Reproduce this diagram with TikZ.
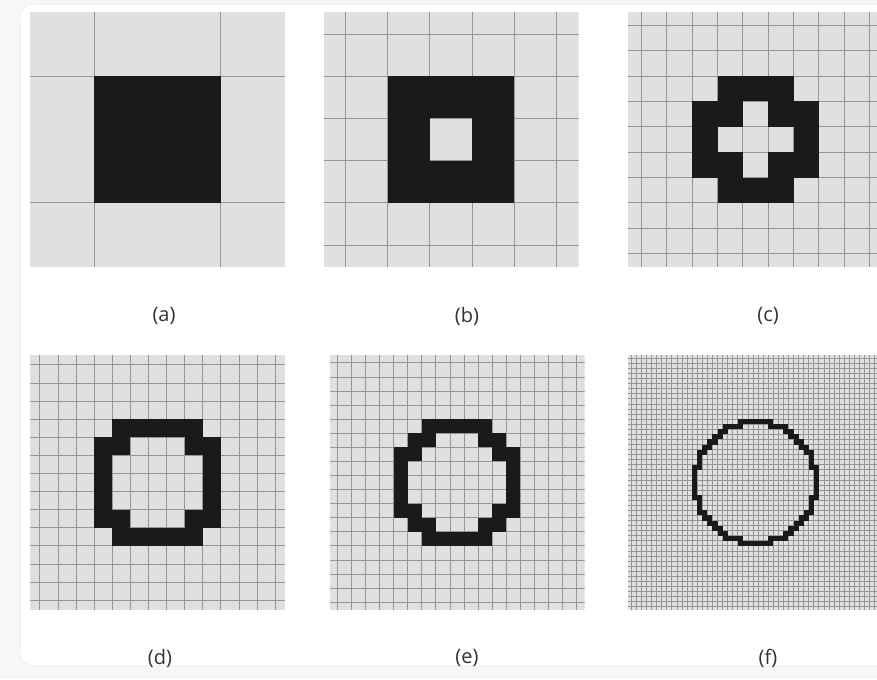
\documentclass[tikz,border=0pt]{standalone}
\usepackage{fontspec}
\setmainfont{Open Sans}
\definecolor{cellbg}{RGB}{224,224,224}
\definecolor{gridln}{RGB}{150,150,150}
\definecolor{ink}{RGB}{26,26,26}
\definecolor{outbg}{RGB}{247,247,247}
\definecolor{framec}{RGB}{232,232,232}
\tikzset{
  gridline/.style={draw=gridln, line width=0.6pt},
  caption/.style={font=\fontsize{15}{18}\selectfont, text=black!80, inner sep=0pt, anchor=center}
}
% #1 left, #2 top, #3 N (cells per unit), #4 list of black cells i/j
\newcommand\gridpanel[4]{%
  \begin{scope}
    \clip (#1,#2) rectangle ++(255,255);
    \fill[cellbg] (#1,#2) rectangle ++(255,255);
    \pgfmathsetmacro\pp{126.7/#3}
    \pgfmathsetmacro\cx{#1+127.5}
    \pgfmathsetmacro\cy{#2+127.5}
    \foreach \k in {0,...,#3} {
      \draw[gridline] ({\cx+(\k+0.5)*\pp},#2) -- ++(0,255);
      \draw[gridline] ({\cx-(\k+0.5)*\pp},#2) -- ++(0,255);
      \draw[gridline] (#1,{\cy+(\k+0.5)*\pp}) -- ++(255,0);
      \draw[gridline] (#1,{\cy-(\k+0.5)*\pp}) -- ++(255,0);
    }
    \foreach \i/\j in {#4} {
      \fill[ink] ({\cx+(\i-0.5)*\pp},{\cy+(\j-0.5)*\pp}) rectangle ++(\pp,\pp);
    }
  \end{scope}}
\begin{document}
\begin{tikzpicture}[x=0.75pt,y=-0.75pt]
\useasboundingbox (0,0) rectangle (877,679);
\fill[outbg] (0,0) rectangle (877,679);
\draw[framec, fill=white, rounded corners=10pt] (20,4) rectangle (910,666);

% (a)
\gridpanel{30}{12}{1}{0/0}
% (b)
\gridpanel{323.5}{12}{3}{-1/-1,0/-1,1/-1,-1/0,1/0,-1/1,0/1,1/1}
% (c)
\gridpanel{628}{12}{5}{-1/-2,0/-2,1/-2,
  -2/-1,-1/-1,1/-1,2/-1,
  -2/0,2/0,
  -2/1,-1/1,1/1,2/1,
  -1/2,0/2,1/2}
% (d)
\gridpanel{30}{355}{7}{-2/-3,-1/-3,0/-3,1/-3,2/-3,
  -3/-2,-2/-2,2/-2,3/-2,
  -3/-1,3/-1,-3/0,3/0,-3/1,3/1,
  -3/2,-2/2,2/2,3/2,
  -2/3,-1/3,0/3,1/3,2/3}
% (e)
\gridpanel{329.5}{355}{9}{-2/-4,-1/-4,0/-4,1/-4,2/-4,
  -3/-3,-2/-3,2/-3,3/-3,
  -4/-2,-3/-2,3/-2,4/-2,
  -4/-1,4/-1,-4/0,4/0,-4/1,4/1,
  -4/2,-3/2,3/2,4/2,
  -3/3,-2/3,2/3,3/3,
  -2/4,-1/4,0/4,1/4,2/4}
% (f): cells crossed by a circle of radius 12 cells
\gridpanel{628}{355}{25}{}
\begin{scope}
  \pgfmathsetmacro\fp{126.7/25}
  \foreach \i in {-12,...,12} {
    \foreach \j in {-12,...,12} {
      \pgfmathsetmacro\near{sqrt(max(abs(\i)-0.5,0)^2+max(abs(\j)-0.5,0)^2)}
      \pgfmathsetmacro\far{sqrt((abs(\i)+0.5)^2+(abs(\j)+0.5)^2)}
      \ifdim\near pt<12pt
        \ifdim\far pt>12pt
          \fill[ink] ({755.5+(\i-0.5)*\fp},{482.5+(\j-0.5)*\fp}) rectangle ++(\fp,\fp);
        \fi
      \fi
    }
  }
\end{scope}

\node[caption] (la) at (164,316) {(a)};
\node[caption] (lb) at (467,316) {(b)};
\node[caption] (lc) at (768,316) {(c)};
\node[caption] (ld) at (160,658) {(d)};
\node[caption] (le) at (467,658) {(e)};
\node[caption] (lf) at (768,658) {(f)};
\end{tikzpicture}
\end{document}
